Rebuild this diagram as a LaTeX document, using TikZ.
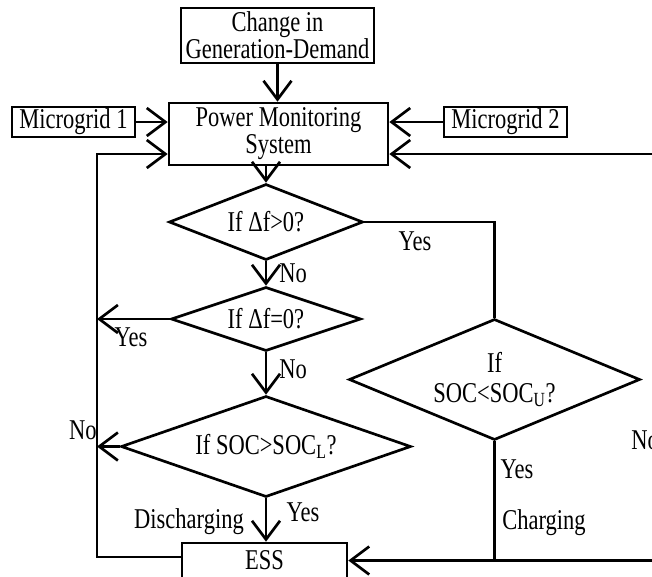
\documentclass[tikz,border=0pt]{standalone}
\usepackage{fontspec}
\setmainfont[FakeStretch=0.785]{Liberation Serif}
\usetikzlibrary{arrows.meta,shapes.geometric}
\newdimen\pxu \pxu=0.75pt
\newcommand\bigtxt{\fontsize{21.5}{20.25}\selectfont}
\newcommand\bigtxtwide{\fontsize{21.5}{23}\selectfont}
\begin{document}
\begin{tikzpicture}[x=0.75pt,y=-0.75pt, line width=2pt,
  box/.style={draw, rectangle, inner sep=0pt, align=center, font=\bigtxt},
  dia/.style={draw, diamond, inner sep=0pt},
  lbl/.style={inner sep=0pt, font=\bigtxt, align=center},
  arr/.style={-{Straight Barb[length=14pt,width=21pt]}}]
\useasboundingbox (0,0) rectangle (652,576);
\clip (0,0) rectangle (652,576);

\node[box, minimum width=193\pxu, minimum height=55\pxu] (chg) at (277.5,35.5) {Change in\\Generation-Demand};
\node[box, minimum width=219\pxu, minimum height=62\pxu] (pms) at (278.5,134) {Power Monitoring\\System};
\node[box, minimum width=123\pxu, minimum height=30\pxu] (mg1) at (73.5,122) {Microgrid 1};
\node[box, minimum width=123\pxu, minimum height=30\pxu] (mg2) at (505.5,122) {Microgrid 2};

\node[dia, minimum width=194\pxu, minimum height=76\pxu] (d1) at (266,222) {};
\node[lbl] (t1) at (d1) {If Δf>0?};
\node[dia, minimum width=190\pxu, minimum height=64\pxu] (d2) at (266,319) {};
\node[lbl] (t2) at (d2) {If Δf=0?};
\node[dia, minimum width=290\pxu, minimum height=101\pxu] (d3) at (266,446.5) {};
\node[lbl] (t3) at (d3) {If SOC>SOC\textsubscript{L}?};
\node[dia, minimum width=291\pxu, minimum height=121\pxu] (d4) at (494.5,379.5) {};
\node[lbl, font=\bigtxtwide] (t4) at (d4) {If\\SOC<SOC\textsubscript{U}?};

\node[box, minimum width=165\pxu, minimum height=35\pxu] (ess) at (264.5,560.5) {ESS};

% connectors
\draw[arr] (chg.south) -- (chg.south |- pms.north);
\draw[arr] (mg1.east) -- (mg1.east -| pms.west);
\draw[arr] (mg2.west) -- (mg2.west -| pms.east);
\draw[arr] (d1.north |- pms.south) -- (d1.north);
\draw[arr] (d1.south) -- (d2.north);
\draw[arr] (d2.south) -- (d3.north);
\draw[arr] (d3.south) -- (d3.south |- ess.north);

\coordinate (lb) at (97,557);
\coordinate (lt) at (97,154);
\draw[arr] (ess.west |- lb) -- (lb) -- (lt) -- (lt -| pms.west);
\draw[arr] (d2.west) -- (d2.west -| lb);
\draw[arr] (d3.west) -- (d3.west -| lb);

\coordinate (rt) at (670,154);
\coordinate (rb) at (670,560.5);
\draw[arr] (rt) -- (rt -| pms.east);
\draw (d1.east) -| (d4.north);
\draw[arr] (d4.south) |- (ess.east);
\draw (rb) -- (rb -| d4.south);

% labels
\node[lbl] (yes1) at (415,241) {Yes};
\node[lbl] (no1) at (293,273) {No};
\node[lbl] (yes2) at (131,337) {Yes};
\node[lbl] (no2) at (293,369) {No};
\node[lbl] (no3) at (83,430) {No};
\node[lbl] (yes3) at (303,512) {Yes};
\node[lbl] (dis) at (189,522) {Discharging};
\node[lbl] (yes4) at (517,469) {Yes};
\node[lbl] (chgl) at (544,523) {Charging};
\node[lbl, anchor=west] (no4) at (630,440) {No};
\end{tikzpicture}
\end{document}
